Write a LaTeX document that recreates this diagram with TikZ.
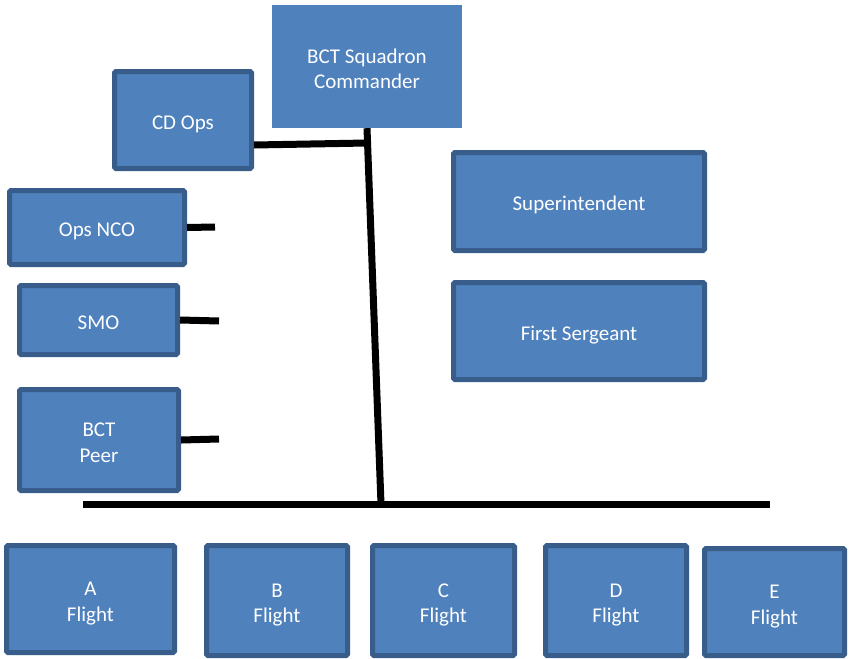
\documentclass[tikz,border=0pt]{standalone}
\usepackage{fontspec}
\setmainfont{Carlito}
\definecolor{boxfill}{HTML}{4F81BD}
\definecolor{boxedge}{HTML}{385D8A}
\newcommand{\boxtext}[1]{\raisebox{-9.5pt}[0pt][0pt]{\begin{tabular}{@{}c@{}}#1\end{tabular}}}

\begin{document}
\begin{tikzpicture}[x=1pt, y=-1pt]
			\tikzstyle{every node}=[align=center, inner sep=1pt, text=white, font=\fontsize{21}{25.5}\selectfont]
			\tikzstyle{unit}=[rectangle, rounded corners=1.5pt, fill=boxfill, draw=boxedge, line width=5pt]
			\tikzstyle{tie}=[line width=7pt, black]
				\useasboundingbox (0,0) rectangle (852,659);
				% staff and command
				\node[rectangle, fill=boxfill, minimum width=190pt, minimum height=123pt] (cmdr) at (367, 66.5) {\boxtext{BCT Squadron\\Commander}};
				\node[unit, minimum width=137pt, minimum height=97pt] (cdops) at (183, 120) {\boxtext{CD Ops}};
				\node[unit, minimum width=175pt, minimum height=74pt] (opsnco) at (97, 227.5) {\boxtext{Ops NCO}};
				\node[unit, minimum width=158pt, minimum height=69pt] (smo) at (98.5, 320) {\boxtext{SMO}};
				\node[unit, minimum width=159pt, minimum height=101pt] (peer) at (99, 440) {\boxtext{BCT\\Peer}};
				\node[unit, minimum width=251pt, minimum height=98pt] (supt) at (579, 201.5) {\boxtext{Superintendent}};
				\node[unit, minimum width=251pt, minimum height=97pt] (firstsgt) at (579, 331) {\boxtext{First Sergeant}};
				% flights
				\node[unit, minimum width=168pt, minimum height=107pt] (aflt) at (90.5, 599) {\boxtext{A\\Flight}};
				\node[unit, minimum width=141pt, minimum height=110pt] (bflt) at (277, 600.5) {\boxtext{B\\Flight}};
				\node[unit, minimum width=142pt, minimum height=110pt] (cflt) at (443.5, 600.5) {\boxtext{C\\Flight}};
				\node[unit, minimum width=141pt, minimum height=110pt] (dflt) at (616, 600.5) {\boxtext{D\\Flight}};
				\node[unit, minimum width=140pt, minimum height=107pt] (eflt) at (774.5, 602) {\boxtext{E\\Flight}};

				\coordinate (trunk) at (381, 504);
				\coordinate (busl) at (83, 504);
				\coordinate (busr) at (770, 504);
				\coordinate (cdtie) at (367, 143);
				\coordinate (ncoend) at (215, 227);
				\coordinate (smoend) at (219, 321);
				\coordinate (peerend) at (219, 439);

				\draw[tie]  (cmdr.south) -- (trunk);
				\draw[tie]  (busl) -- (busr);
				\draw[tie]  ([yshift=-25pt]cdops.east) -- (cdtie);
				\draw[tie]  (opsnco.east) -- (ncoend);
				\draw[tie]  (smo.east) -- (smoend);
				\draw[tie]  (peer.east) -- (peerend);
			\end{tikzpicture}
\end{document}
